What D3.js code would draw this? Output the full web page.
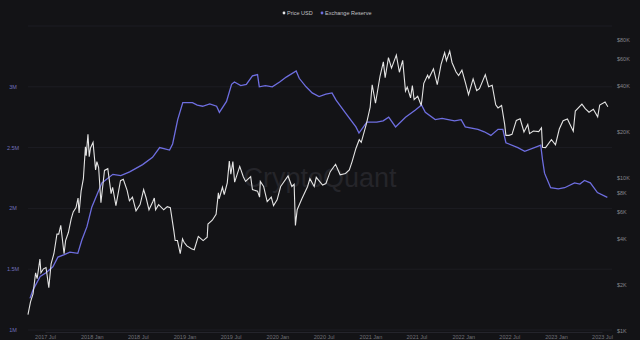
<!DOCTYPE html>
<html>
<head>
<meta charset="utf-8">
<script src="https://cdn.jsdelivr.net/npm/d3@7"></script>
<style>
  html, body { margin: 0; padding: 0; background: #131316; }
  svg { display: block; font-family: "Liberation Sans", Arial, sans-serif; }
</style>
</head>
<body>
<script>
// BTC price (USD)
const priceDates = [
  "2017-04-25","2017-05-05","2017-05-15","2017-05-25","2017-05-31","2017-06-11","2017-06-15","2017-06-25","2017-07-05","2017-07-16","2017-07-25",
  "2017-08-05","2017-08-17","2017-08-24","2017-09-01","2017-09-14","2017-09-20","2017-10-01","2017-10-12","2017-10-20","2017-10-31",
  "2017-11-08","2017-11-12","2017-11-20","2017-11-29","2017-12-07","2017-12-10","2017-12-17","2017-12-22","2017-12-27",
  "2018-01-06","2018-01-16","2018-01-21","2018-01-28","2018-02-06","2018-02-20","2018-03-05","2018-03-18","2018-03-24","2018-04-06",
  "2018-04-24","2018-05-05","2018-05-20","2018-05-29","2018-06-10","2018-06-24","2018-07-10","2018-07-24","2018-08-03","2018-08-14",
  "2018-08-29","2018-09-04","2018-09-09","2018-09-21","2018-10-11","2018-10-25","2018-11-06","2018-11-20","2018-11-25","2018-12-04",
  "2018-12-15","2018-12-24","2018-12-30",
  "2019-01-10","2019-01-28","2019-02-08","2019-02-24","2019-03-15","2019-03-31","2019-04-03","2019-04-20","2019-05-05","2019-05-14",
  "2019-05-17","2019-05-30","2019-06-06","2019-06-18","2019-06-26","2019-07-02","2019-07-10","2019-07-17","2019-08-06","2019-08-20",
  "2019-08-29","2019-09-18","2019-09-25","2019-10-15","2019-10-23","2019-10-26","2019-11-08","2019-11-22","2019-12-08","2019-12-17","2019-12-31",
  "2020-01-14","2020-02-12","2020-02-27","2020-03-07","2020-03-12","2020-03-19","2020-04-06","2020-04-29","2020-05-08","2020-05-25",
  "2020-06-02","2020-06-27","2020-07-10","2020-07-27","2020-08-17","2020-09-04","2020-09-25","2020-10-10","2020-10-21","2020-11-05",
  "2020-11-18","2020-11-26","2020-12-17","2020-12-31",
  "2021-01-08","2021-01-21","2021-02-08","2021-02-21","2021-02-28","2021-03-13","2021-03-25","2021-04-13","2021-04-25","2021-05-08",
  "2021-05-19","2021-05-26","2021-06-08","2021-06-15","2021-06-22","2021-07-06","2021-07-20","2021-07-30","2021-08-14","2021-08-19",
  "2021-09-06","2021-09-21","2021-10-06","2021-10-20","2021-10-27","2021-11-09","2021-11-18","2021-12-04","2021-12-14","2021-12-27",
  "2022-01-10","2022-01-22","2022-02-09","2022-02-23","2022-03-06","2022-03-29","2022-04-11","2022-04-25","2022-05-09","2022-05-18",
  "2022-06-01","2022-06-13","2022-06-18","2022-06-30","2022-07-12","2022-07-29","2022-08-13","2022-08-28","2022-09-12","2022-09-19",
  "2022-10-04","2022-10-25","2022-11-05","2022-11-09","2022-11-21","2022-12-14","2022-12-30",
  "2023-01-14","2023-01-29","2023-02-15","2023-03-10","2023-03-18","2023-04-13","2023-04-26","2023-05-11","2023-05-28","2023-06-14",
  "2023-06-22","2023-07-13","2023-07-24"
];
const priceValues = [
  1280,1550,1750,2400,2200,2950,2400,2550,2600,1920,2750,
  3200,4300,4300,4900,3200,3900,4400,5400,6000,6400,
  7400,5900,8200,9900,16000,14000,19300,13800,15700,
  17100,11300,12800,11700,6900,11200,11500,7900,8700,6600,
  9600,9800,8300,7100,7500,6100,6700,8400,7400,6200,
  7000,7400,6200,6700,6200,6500,6400,4500,3900,3900,
  3200,4000,3800,
  3600,3450,3400,4150,3900,4100,5000,5300,5800,8000,
  7300,8700,7800,9300,12900,10600,12800,9400,11900,10200,
  9500,10200,8400,8200,7500,9500,8800,7000,7500,6600,7200,
  8800,10300,8800,9100,4900,6200,7300,8800,9900,8800,
  10100,9000,9200,11000,12300,10500,10700,11300,12800,15600,
  17800,17100,22800,29000,
  40700,30800,46400,57400,45200,61200,52300,63500,49100,58800,
  37000,39300,33400,40200,32500,34200,29800,41600,47000,44800,
  51700,40700,55300,66000,58400,67600,56900,49300,46700,50700,
  41800,35000,44400,37300,38400,47400,39500,40400,30100,28700,
  29800,22500,19000,19000,19300,23800,24400,20000,22400,19500,
  20300,20100,21300,15900,15800,17800,16500,
  20900,23700,24300,20200,27400,30400,28400,26900,28100,25100,
  30000,31400,29200
];

// Exchange reserve (BTC)
const reserveDates = [
  "2017-05-03","2017-05-15","2017-06-12","2017-07-05","2017-08-01","2017-08-21","2017-09-15","2017-10-07","2017-11-07","2017-11-23","2017-12-13",
  "2018-01-01","2018-01-25","2018-02-10","2018-03-25","2018-04-25","2018-05-30","2018-07-20","2018-08-28","2018-09-25","2018-11-03","2018-11-15","2018-12-05","2018-12-25",
  "2019-02-01","2019-02-20","2019-03-13","2019-04-10","2019-05-07","2019-05-18","2019-06-15","2019-07-05","2019-07-16","2019-08-10","2019-09-01","2019-09-25","2019-10-15","2019-10-22","2019-11-15","2019-12-12",
  "2020-01-10","2020-02-05","2020-03-15","2020-03-27","2020-04-23","2020-05-17","2020-06-13","2020-07-10","2020-08-03","2020-08-19","2020-09-27","2020-11-05","2020-11-17","2020-12-18",
  "2021-01-26","2021-02-20","2021-03-14","2021-04-10","2021-05-19","2021-06-27","2021-07-21","2021-08-05","2021-09-13","2021-10-10","2021-11-03","2021-11-28","2021-12-24",
  "2022-01-09","2022-02-28","2022-03-25","2022-04-20","2022-05-18","2022-06-06","2022-06-18","2022-08-04","2022-08-31","2022-10-21","2022-11-02","2022-11-09","2022-11-17","2022-12-11",
  "2023-01-10","2023-02-04","2023-03-15","2023-04-05","2023-04-23","2023-05-16","2023-06-13","2023-07-22"
];
const reserveValues = [
  1.26,1.33,1.44,1.47,1.52,1.60,1.62,1.64,1.63,1.74,1.85,
  2.01,2.13,2.21,2.28,2.27,2.30,2.36,2.42,2.50,2.48,2.53,2.73,2.87,
  2.87,2.85,2.84,2.86,2.84,2.79,2.88,3.02,3.04,3.01,3.02,3.09,3.10,3.00,3.01,3.00,
  3.04,3.08,3.13,3.07,3.00,2.95,2.92,2.94,2.95,2.89,2.78,2.67,2.62,2.71,
  2.71,2.72,2.75,2.67,2.75,2.81,2.85,2.79,2.73,2.74,2.73,2.72,2.73,
  2.67,2.65,2.63,2.60,2.65,2.65,2.54,2.50,2.47,2.51,2.52,2.40,2.29,2.17,
  2.16,2.17,2.21,2.20,2.23,2.21,2.13,2.09
].map(v => v * 1e6);

const leftTicks = [1e6, 1.5e6, 2e6, 2.5e6, 3e6];
const leftLabels = ["1M", "1.5M", "2M", "2.5M", "3M"];
const rightTicks = [1000, 2000, 4000, 6000, 8000, 10000, 20000, 40000, 60000, 80000];
const rightLabels = ["$1K", "$2K", "$4K", "$6K", "$8K", "$10K", "$20K", "$40K", "$60K", "$80K"];
const gridTicks = [1e6, 1.5e6, 2e6, 2.5e6, 3e6, 3.5e6];

const width = 640;
const height = 340;
const parse = d3.timeParse("%Y-%m-%d");

const price = priceDates.map((d, i) => ({ date: parse(d), value: priceValues[i] }));
const reserve = reserveDates.map((d, i) => ({ date: parse(d), value: reserveValues[i] }));

const svg = d3.select("body")
    .append("svg")
    .attr("width", width)
    .attr("height", height);

svg.append("rect").attr("width", width).attr("height", height).attr("fill", "#131316");

const x = d3.scaleTime()
    .domain([parse("2017-07-01"), parse("2023-07-01")])
    .range([45, 602]);

const yLeft = d3.scaleLinear()
    .domain([1e6, 3.5e6])
    .range([330, 26]);

const yRight = d3.scaleLog()
    .domain([1000, 100000])
    .range([331, 25]);

// gridlines
svg.append("g")
    .selectAll("line")
    .data(gridTicks)
    .join("line")
    .attr("x1", 28)
    .attr("x2", 612)
    .attr("y1", d => yLeft(d))
    .attr("y2", d => yLeft(d))
    .attr("stroke", "#1f1f26")
    .attr("stroke-width", 0.8);

// watermark
svg.append("text")
    .attr("x", 320)
    .attr("y", 187)
    .attr("text-anchor", "middle")
    .attr("font-size", 27)
    .attr("fill", "#25252a")
    .text("CryptoQuant");

// left axis
svg.append("g")
    .selectAll("text")
    .data(leftTicks)
    .join("text")
    .attr("x", 13)
    .attr("y", d => yLeft(d) + 2)
    .attr("text-anchor", "middle")
    .attr("font-size", 5.5)
    .attr("fill", "#7070bc")
    .text((d, i) => leftLabels[i]);

// right axis
svg.append("g")
    .selectAll("text")
    .data(rightTicks)
    .join("text")
    .attr("x", 617)
    .attr("y", d => yRight(d) + 2)
    .attr("font-size", 5.5)
    .attr("fill", "#84848a")
    .text((d, i) => rightLabels[i]);

// x axis
const xAxis = d3.axisBottom(x)
    .ticks(d3.timeMonth.every(6))
    .tickFormat(d3.timeFormat("%Y %b"))
    .tickSize(0);

svg.append("g")
    .attr("transform", "translate(0,332)")
    .call(xAxis)
    .call(g => g.select(".domain").attr("stroke", "#24242b"))
    .call(g => g.selectAll("text").attr("fill", "#717177").attr("font-size", 5.5).attr("dy", 4));

// lines
const reserveLine = d3.line()
    .x(d => x(d.date))
    .y(d => yLeft(d.value));

const priceLine = d3.line()
    .x(d => x(d.date))
    .y(d => yRight(d.value));

svg.append("path")
    .datum(reserve)
    .attr("fill", "none")
    .attr("stroke", "#6e6ee0")
    .attr("stroke-width", 1.3)
    .attr("d", reserveLine);

svg.append("path")
    .datum(price)
    .attr("fill", "none")
    .attr("stroke", "#e4e4e4")
    .attr("stroke-width", 1.1)
    .attr("d", priceLine);

// legend
const legend = svg.append("g").attr("font-size", 5.5);
legend.append("circle").attr("cx", 284).attr("cy", 13).attr("r", 1.4).attr("fill", "#e4e4e4");
legend.append("text").attr("x", 287).attr("y", 15).attr("fill", "#c0c0c4").text("Price USD");
legend.append("circle").attr("cx", 322).attr("cy", 13).attr("r", 1.4).attr("fill", "#6e6ee0");
legend.append("text").attr("x", 325).attr("y", 15).attr("fill", "#c0c0c4").text("Exchange Reserve");
</script>
</body>
</html>
